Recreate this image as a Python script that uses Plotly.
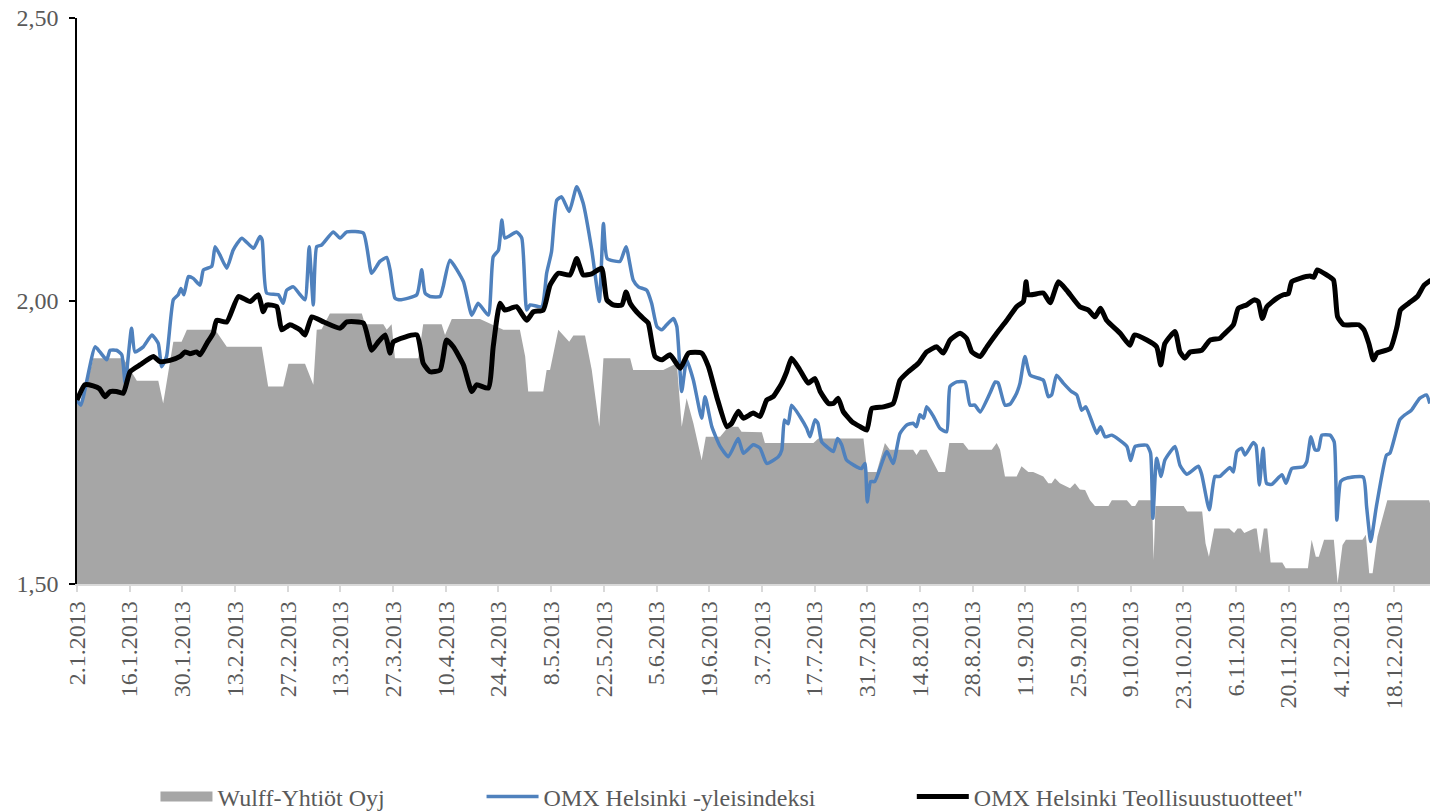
import pandas as pd
import plotly.graph_objects as go

START = pd.Timestamp("2013-01-02")

tick_labels = ["2.1.2013", "16.1.2013", "30.1.2013", "13.2.2013", "27.2.2013", "13.3.2013",
               "27.3.2013", "10.4.2013", "24.4.2013", "8.5.2013", "22.5.2013", "5.6.2013",
               "19.6.2013", "3.7.2013", "17.7.2013", "31.7.2013", "14.8.2013", "28.8.2013",
               "11.9.2013", "25.9.2013", "9.10.2013", "23.10.2013", "6.11.2013", "20.11.2013",
               "4.12.2013", "18.12.2013"]
y_ticks = [1.5, 2.0, 2.5]
y_tick_labels = ["1,50", "2,00", "2,50"]

# days after 2.1.2013 and values
wulff_day = [0, 1.5, 4.3, 12.3, 15.9, 21.6, 22.9, 25.6, 27.8, 29.2, 36.7, 39.8, 49.1, 50.8, 54.8,
             56.2, 60.6, 62.8, 63.7, 65.0, 67.2, 75.7, 76.5, 81.4, 82.3, 83.6, 84.5, 90.7, 92.0,
             96.9, 97.8, 99.6, 107.1, 110.6, 113.3, 117.7, 119.1, 119.9, 123.9, 124.8, 125.7,
             127.9, 130.8, 131.9, 135.0, 136.8, 138.8, 139.9, 147.0, 147.8, 155.8, 159.4, 160.7,
             162.0, 163.8, 166.0, 167.1, 170.9, 173.1, 175.7, 176.6, 182.0, 182.8, 195.7, 197.0,
             209.0, 210.0, 212.5, 214.7, 216.0, 222.2, 223.1, 224.0, 225.8, 228.9, 230.7, 231.8,
             235.5, 236.9, 243.1, 244.4, 245.3, 246.6, 249.7, 251.0, 252.8, 254.1, 256.8, 258.1,
             259.0, 259.9, 261.2, 263.9, 265.2, 266.5, 267.9, 269.2, 270.5, 274.1, 275.0, 279.0,
             280.3, 281.2, 282.1, 285.7, 286.1, 286.6, 294.1, 295.0, 299.0, 299.9, 300.8, 302.2,
             306.2, 307.5, 308.4, 309.3, 310.2, 312.8, 313.5, 314.4, 315.4, 316.3, 317.2, 320.3,
             321.2, 327.1, 328.1, 329.2, 330.0, 331.4, 334.0, 335.0, 336.3, 337.2, 341.6, 342.5,
             343.4, 344.3, 345.6, 348.2, 359.3, 359.8]
wulff_val = [1.820, 1.820, 1.899, 1.899, 1.859, 1.859, 1.819, 1.928, 1.928, 1.949, 1.949, 1.919,
             1.919, 1.849, 1.849, 1.889, 1.889, 1.852, 1.949, 1.950, 1.978, 1.978, 1.959, 1.959,
             1.949, 1.959, 1.899, 1.899, 1.959, 1.959, 1.940, 1.968, 1.968, 1.958, 1.949, 1.949,
             1.902, 1.840, 1.840, 1.878, 1.878, 1.949, 1.928, 1.939, 1.939, 1.878, 1.778, 1.899,
             1.899, 1.878, 1.878, 1.890, 1.778, 1.828, 1.784, 1.719, 1.760, 1.760, 1.778, 1.778,
             1.769, 1.768, 1.749, 1.749, 1.757, 1.757, 1.698, 1.698, 1.749, 1.737, 1.737, 1.728,
             1.737, 1.737, 1.698, 1.698, 1.749, 1.749, 1.737, 1.737, 1.749, 1.737, 1.690, 1.690,
             1.708, 1.698, 1.698, 1.690, 1.678, 1.678, 1.687, 1.678, 1.669, 1.678, 1.667, 1.666,
             1.648, 1.638, 1.638, 1.648, 1.648, 1.638, 1.638, 1.648, 1.648, 1.542, 1.638, 1.638,
             1.628, 1.628, 1.572, 1.548, 1.598, 1.598, 1.590, 1.598, 1.598, 1.590, 1.598, 1.598,
             1.554, 1.598, 1.598, 1.538, 1.538, 1.528, 1.528, 1.578, 1.548, 1.548, 1.578, 1.578,
             1.501, 1.569, 1.578, 1.578, 1.587, 1.519, 1.519, 1.584, 1.648, 1.648, 1.637]

omx_day = [0, 1, 4.8, 6.1, 7.9, 8.8, 10.5, 11.9, 12.8, 14.5, 15.4, 17.6, 19.9, 21.6, 22.5, 23.8,
           25.6, 26.9, 27.6, 28.4, 29.6, 30.9, 32.7, 33.6, 35.8, 36.7, 38.0, 39.8, 41.5, 43.8,
           46.9, 48.6, 49.2, 50.4, 53.5, 54.8, 55.7, 57.5, 59.3, 60.6, 61.7, 62.8, 63.7, 65.0,
           68.1, 69.9, 71.7, 76.1, 78.3, 80.5, 82.3, 83.2, 84.5, 85.8, 90.3, 91.6, 92.5, 93.8,
           96.5, 97.3, 99.1, 102.7, 104.9, 106.6, 109.3, 110.6, 112.0, 112.9, 113.7, 116.8, 118.2,
           119.5, 120.4, 123.5, 124.8, 126.1, 127.5, 128.8, 130.8, 132.8, 134.5, 136.8, 138.8,
           139.9, 140.9, 144.3, 145.9, 147.8, 149.2, 151.4, 152.7, 154.1, 155.4, 156.7, 158.5,
           159.4, 160.7, 162.0, 163.8, 166.0, 166.9, 168.7, 170.9, 173.1, 175.7, 177.1, 179.7,
           181.5, 183.3, 186.4, 187.3, 188.0, 189.0, 189.9, 192.1, 193.9, 194.8, 196.1, 196.9,
           197.9, 199.7, 201.0, 202.1, 203.2, 204.5, 207.2, 208.5, 209.4, 210.0, 210.9, 212.0,
           215.2, 216.9, 218.7, 220.5, 222.2, 223.1, 224.0, 225.0, 225.8, 227.6, 229.3, 231.1,
           232.0, 233.8, 236.0, 237.3, 238.6, 240.0, 242.6, 244.0, 244.8, 246.6, 248.0, 249.7,
           250.6, 251.9, 253.3, 256.8, 258.1, 259.0, 260.3, 262.1, 264.3, 265.7, 267.0, 268.1,
           271.0, 272.0, 273.2, 275.0, 279.0, 280.0, 281.2, 284.3, 285.3, 285.9, 286.9, 288.1,
           289.1, 291.8, 293.1, 294.9, 298.0, 298.9, 300.9, 302.4, 303.7, 306.4, 307.3, 308.2,
           309.5, 310.4, 312.6, 313.3, 314.2, 315.2, 316.1, 317.5, 320.2, 321.3, 322.8, 325.9,
           326.8, 327.9, 329.0, 329.9, 330.8, 333.0, 334.1, 334.8, 335.8, 337.4, 341.8, 342.7,
           343.8, 345.3, 348.0, 348.9, 351.5, 352.9, 354.6, 356.8, 358.6, 359.5]
omx_val = [1.825, 1.816, 1.919, 1.910, 1.896, 1.913, 1.913, 1.905, 1.855, 1.952, 1.910, 1.919,
           1.940, 1.925, 1.884, 1.902, 2.002, 2.011, 2.022, 2.011, 2.043, 2.040, 2.028, 2.055,
           2.061, 2.096, 2.081, 2.058, 2.090, 2.111, 2.093, 2.114, 2.108, 2.014, 2.011, 1.996,
           2.019, 2.025, 2.011, 2.002, 2.096, 1.993, 2.096, 2.099, 2.122, 2.111, 2.122, 2.120,
           2.049, 2.070, 2.077, 2.055, 2.005, 2.002, 2.011, 2.055, 2.014, 2.008, 2.008, 2.025,
           2.072, 2.034, 1.975, 1.996, 1.975, 2.078, 2.090, 2.143, 2.111, 2.122, 2.111, 1.984,
           1.993, 1.990, 2.049, 2.087, 2.178, 2.184, 2.158, 2.202, 2.173, 2.090, 1.999, 2.137,
           2.075, 2.070, 2.096, 2.037, 2.025, 2.019, 1.996, 1.955, 1.949, 1.958, 1.969, 1.955,
           1.840, 1.896, 1.860, 1.793, 1.831, 1.778, 1.743, 1.725, 1.757, 1.731, 1.746, 1.740,
           1.713, 1.725, 1.737, 1.790, 1.783, 1.816, 1.796, 1.775, 1.760, 1.790, 1.784, 1.751,
           1.740, 1.734, 1.757, 1.746, 1.719, 1.707, 1.704, 1.713, 1.645, 1.681, 1.681, 1.734,
           1.713, 1.766, 1.781, 1.784, 1.778, 1.799, 1.793, 1.813, 1.796, 1.775, 1.769, 1.849,
           1.857, 1.857, 1.816, 1.816, 1.804, 1.837, 1.857, 1.855, 1.816, 1.818, 1.837, 1.855,
           1.902, 1.869, 1.860, 1.831, 1.834, 1.869, 1.855, 1.840, 1.834, 1.807, 1.813, 1.766,
           1.778, 1.760, 1.763, 1.743, 1.718, 1.743, 1.745, 1.731, 1.616, 1.722, 1.690, 1.719,
           1.743, 1.710, 1.694, 1.708, 1.693, 1.631, 1.690, 1.690, 1.706, 1.698, 1.734, 1.740,
           1.728, 1.750, 1.745, 1.675, 1.740, 1.678, 1.676, 1.693, 1.678, 1.704, 1.707, 1.716,
           1.760, 1.737, 1.737, 1.763, 1.763, 1.751, 1.613, 1.681, 1.687, 1.689, 1.637, 1.575,
           1.637, 1.728, 1.731, 1.790, 1.799, 1.807, 1.828, 1.834, 1.819]

ind_day = [0, 2.1, 4.3, 6.0, 7.4, 8.8, 10.5, 12.3, 14.1, 16.7, 20.3, 22.0, 24.7, 27.4, 28.7, 30.0,
           31.8, 32.7, 34.5, 36.2, 37.1, 39.8, 42.9, 46.0, 48.2, 49.5, 50.4, 53.1, 54.4, 56.6,
           59.3, 60.6, 62.4, 65.5, 69.9, 71.7, 76.1, 78.3, 80.1, 81.9, 83.2, 84.1, 90.3, 92.0,
           93.8, 96.5, 98.2, 100.0, 102.7, 104.9, 106.2, 109.3, 110.6, 112.4, 113.7, 116.8, 119.5,
           121.3, 123.9, 125.7, 127.9, 131.0, 132.8, 134.5, 136.8, 139.4, 140.8, 142.5, 144.8,
           145.9, 147.0, 148.7, 150.5, 151.8, 153.6, 155.4, 157.6, 160.3, 162.5, 166.0, 167.8,
           170.0, 172.7, 174.0, 175.7, 177.1, 179.7, 181.5, 183.3, 185.0, 187.3, 188.6, 189.9,
           192.1, 194.3, 196.1, 197.5, 199.7, 201.0, 202.3, 203.6, 205.9, 208.1, 209.9, 211.2,
           214.3, 216.9, 218.7, 220.9, 223.6, 225.8, 228.5, 230.2, 232.0, 234.7, 236.4, 237.8,
           240.0, 241.8, 244.4, 247.1, 249.7, 251.5, 252.2, 252.8, 256.8, 258.6, 260.8, 263.0,
           266.5, 268.8, 270.5, 272.0, 273.6, 277.2, 279.8, 281.0, 284.3, 286.9, 288.0, 289.1,
           291.8, 293.1, 294.4, 295.8, 298.9, 301.1, 303.7, 304.6, 307.3, 308.6, 310.8, 312.8,
           313.9, 315.0, 316.2, 318.9, 320.6, 321.9, 322.8, 325.0, 327.7, 328.7, 329.6, 332.1,
           333.9, 335.0, 336.6, 340.6, 342.0, 343.3, 344.5, 345.5, 349.0, 350.8, 351.7, 353.9,
           356.2, 358.0, 359.8]
ind_val = [1.825, 1.852, 1.850, 1.845, 1.831, 1.840, 1.840, 1.837, 1.875, 1.887, 1.902, 1.893,
           1.895, 1.902, 1.910, 1.907, 1.910, 1.905, 1.925, 1.943, 1.966, 1.963, 2.008, 1.999,
           2.011, 1.981, 1.993, 1.990, 1.949, 1.958, 1.949, 1.940, 1.972, 1.963, 1.952, 1.963,
           1.961, 1.913, 1.928, 1.940, 1.908, 1.928, 1.940, 1.890, 1.875, 1.878, 1.931, 1.919,
           1.887, 1.840, 1.852, 1.846, 1.919, 1.996, 1.984, 1.990, 1.966, 1.981, 1.984, 2.028,
           2.049, 2.046, 2.075, 2.046, 2.048, 2.058, 2.002, 1.993, 1.993, 2.016, 1.996, 1.981,
           1.969, 1.961, 1.902, 1.896, 1.905, 1.881, 1.908, 1.908, 1.884, 1.831, 1.778, 1.784,
           1.805, 1.793, 1.802, 1.796, 1.825, 1.831, 1.855, 1.875, 1.899, 1.878, 1.855, 1.863,
           1.840, 1.819, 1.819, 1.828, 1.805, 1.787, 1.778, 1.772, 1.810, 1.813, 1.819, 1.860,
           1.875, 1.890, 1.910, 1.919, 1.908, 1.931, 1.943, 1.934, 1.910, 1.902, 1.919, 1.943,
           1.966, 1.990, 1.999, 2.034, 2.011, 2.014, 1.997, 2.034, 2.019, 1.990, 1.984, 1.972,
           1.987, 1.966, 1.943, 1.922, 1.940, 1.931, 1.919, 1.887, 1.925, 1.946, 1.910, 1.899,
           1.910, 1.913, 1.931, 1.934, 1.940, 1.958, 1.987, 1.993, 2.002, 1.999, 1.969, 1.990,
           2.005, 2.011, 2.013, 2.034, 2.040, 2.044, 2.042, 2.055, 2.046, 2.037, 1.972, 1.958,
           1.958, 1.949, 1.925, 1.896, 1.908, 1.916, 1.955, 1.984, 1.996, 2.008, 2.028, 2.037]


def to_dates(days):
    return [START + pd.Timedelta(days=d) for d in days]


tick_vals = [pd.to_datetime(t, format="%d.%m.%Y") for t in tick_labels]

FONT = "Liberation Serif"
TXT = "#595959"
GREY = "#A6A6A6"
BLUE = "#4F81BD"

fig = go.Figure()
fig.add_trace(go.Scatter(
    x=to_dates(wulff_day), y=wulff_val, mode="lines",
    line=dict(width=0, color=GREY), fill="tozeroy", fillcolor=GREY,
    showlegend=False, hoverinfo="skip"))
fig.add_trace(go.Scatter(
    x=[None], y=[None], mode="lines", name="Wulff-Yhtiöt Oyj",
    line=dict(width=14, color=GREY), legend="legend"))
fig.add_trace(go.Scatter(
    x=to_dates(omx_day), y=omx_val, mode="lines", name="OMX Helsinki -yleisindeksi",
    line=dict(width=3.5, color=BLUE, shape="spline", smoothing=0.5), legend="legend2"))
fig.add_trace(go.Scatter(
    x=to_dates(ind_day), y=ind_val, mode="lines", name='OMX Helsinki Teollisuustuotteet"',
    line=dict(width=5, color="#000000", shape="spline", smoothing=0.5), legend="legend3"))

legend_common = dict(orientation="h", yanchor="middle", y=-0.376, xanchor="left",
                     font=dict(family=FONT, size=24, color=TXT), itemwidth=52,
                     bgcolor="rgba(0,0,0,0)", borderwidth=0)

fig.update_layout(
    width=1430, height=812,
    margin=dict(l=77, r=0, t=18, b=228, autoexpand=False),
    paper_bgcolor="white", plot_bgcolor="white",
    font=dict(family=FONT, size=24, color=TXT),
    legend=dict(x=0.058, **legend_common),
    legend2=dict(x=0.299, **legend_common),
    legend3=dict(x=0.617, **legend_common),
    xaxis=dict(
        type="date", automargin=False,
        range=[START, START + pd.Timedelta(days=359.55)],
        tickvals=tick_vals, ticktext=tick_labels, tickangle=-90,
        ticks="outside", ticklen=6, tickcolor="#D9D9D9", tickwidth=1.5,
        showline=True, linecolor="#D9D9D9", linewidth=1.5,
        showgrid=False, zeroline=False, ticklabeloverflow="allow",
        tickfont=dict(family=FONT, size=24, color=TXT),
    ),
    yaxis=dict(
        automargin=False,
        range=[1.5, 2.5], tickvals=y_ticks, ticktext=y_tick_labels,
        ticks="outside", ticklen=6, tickcolor="#000000", tickwidth=1.5,
        showline=True, linecolor="#000000", linewidth=1.5,
        showgrid=False, zeroline=False, ticklabelstandoff=6, ticklabeloverflow="allow",
        tickfont=dict(family=FONT, size=24, color=TXT),
    ),
)

# remove the browser's default 8px page margin so the figure fills the window exactly
fig.write_html("out.html", config={"displayModeBar": False},
               post_script="document.body.style.margin='0px';document.body.style.overflow='hidden';")
